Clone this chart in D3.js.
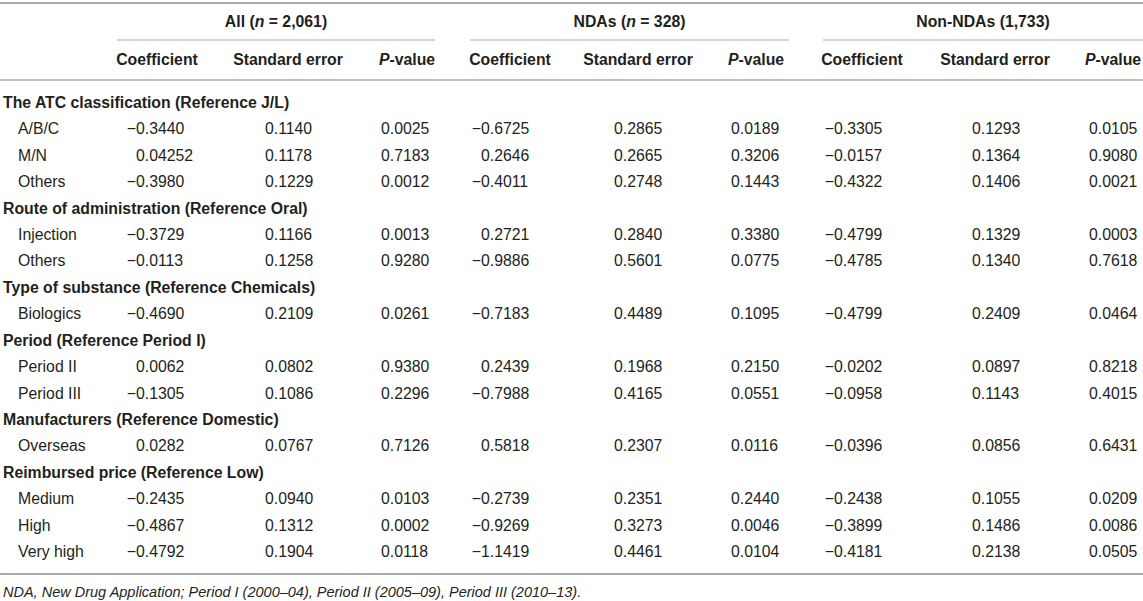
<!DOCTYPE html>
<html>
<head>
<meta charset="utf-8">
<script src="https://cdn.jsdelivr.net/npm/d3@7"></script>
<style>
	html, body { margin: 0; padding: 0; background: #fff; }
	svg text { font-family: "Liberation Sans", Arial, Helvetica, sans-serif; fill: #231f20; }
</style>
</head>
<body>
<svg id="chart"></svg>
<script>
/*
 * Regression table drawn with d3
 */

var W = 1143, H = 601;
var FS = '15.8px';
var MINUS = '\u2212';

// groups of columns
var groupKeys = ['all', 'nda', 'non'];
var groupTitles = [
	[{ t: 'All (' }, { t: 'n', i: true }, { t: ' = 2,061)' }],
	[{ t: 'NDAs (' }, { t: 'n', i: true }, { t: ' = 328)' }],
	[{ t: 'Non-NDAs (1,733)' }]
];
var subHeaders = [
	[{ t: 'Coefficient' }],
	[{ t: 'Standard error' }],
	[{ t: 'P', i: true }, { t: '-value' }]
];

// rows: s = section heading, r = variable level
var rowLabels = [
	['s', 'The ATC classification (Reference J/L)'],
	['r', 'A/B/C'],
	['r', 'M/N'],
	['r', 'Others'],
	['s', 'Route of administration (Reference Oral)'],
	['r', 'Injection'],
	['r', 'Others'],
	['s', 'Type of substance (Reference Chemicals)'],
	['r', 'Biologics'],
	['s', 'Period (Reference Period I)'],
	['r', 'Period II'],
	['r', 'Period III'],
	['s', 'Manufacturers (Reference Domestic)'],
	['r', 'Overseas'],
	['s', 'Reimbursed price (Reference Low)'],
	['r', 'Medium'],
	['r', 'High'],
	['r', 'Very high']
];

var allCoef = [null, '\u22120.3440', '0.04252', '\u22120.3980', null, '\u22120.3729', '\u22120.0113', null, '\u22120.4690', null, '0.0062', '\u22120.1305', null, '0.0282', null, '\u22120.2435', '\u22120.4867', '\u22120.4792'];
var allSE = [null, '0.1140', '0.1178', '0.1229', null, '0.1166', '0.1258', null, '0.2109', null, '0.0802', '0.1086', null, '0.0767', null, '0.0940', '0.1312', '0.1904'];
var allP = [null, '0.0025', '0.7183', '0.0012', null, '0.0013', '0.9280', null, '0.0261', null, '0.9380', '0.2296', null, '0.7126', null, '0.0103', '0.0002', '0.0118'];

var ndaCoef = [null, '\u22120.6725', '0.2646', '\u22120.4011', null, '0.2721', '\u22120.9886', null, '\u22120.7183', null, '0.2439', '\u22120.7988', null, '0.5818', null, '\u22120.2739', '\u22120.9269', '\u22121.1419'];
var ndaSE = [null, '0.2865', '0.2665', '0.2748', null, '0.2840', '0.5601', null, '0.4489', null, '0.1968', '0.4165', null, '0.2307', null, '0.2351', '0.3273', '0.4461'];
var ndaP = [null, '0.0189', '0.3206', '0.1443', null, '0.3380', '0.0775', null, '0.1095', null, '0.2150', '0.0551', null, '0.0116', null, '0.2440', '0.0046', '0.0104'];

var nonCoef = [null, '\u22120.3305', '\u22120.0157', '\u22120.4322', null, '\u22120.4799', '\u22120.4785', null, '\u22120.4799', null, '\u22120.0202', '\u22120.0958', null, '\u22120.0396', null, '\u22120.2438', '\u22120.3899', '\u22120.4181'];
var nonSE = [null, '0.1293', '0.1364', '0.1406', null, '0.1329', '0.1340', null, '0.2409', null, '0.0897', '0.1143', null, '0.0856', null, '0.1055', '0.1486', '0.2138'];
var nonP = [null, '0.0105', '0.9080', '0.0021', null, '0.0003', '0.7618', null, '0.0464', null, '0.8218', '0.4015', null, '0.6431', null, '0.0209', '0.0086', '0.0505'];

var footnote = 'NDA, New Drug Application; Period I (2000\u201304), Period II (2005\u201309), Period III (2010\u201313).';

var columns = [allCoef, allSE, allP, ndaCoef, ndaSE, ndaP, nonCoef, nonSE, nonP];

// layout: header centres and the x where the leading digit of a number starts
var colX = d3.scaleOrdinal()
	.domain(d3.range(9))
	.range([157, 288, 407, 510, 638, 756, 862, 995, 1113]);
var digitX = d3.scaleOrdinal()
	.domain(d3.range(9))
	.range([136, 265, 381, 481, 614, 731, 834, 972, 1089]);
var groupSpan = d3.scaleOrdinal()
	.domain(groupKeys)
	.range([[117, 435], [470, 789], [823, 1143]]);
var y = d3.scalePoint()
	.domain(d3.range(rowLabels.length))
	.range([102, 551]);

var svg = d3.select('#chart')
	.attr('width', W)
	.attr('height', H);

var addRuns = function (sel, runs) {
	sel.selectAll('tspan')
		.data(runs)
		.join('tspan')
		.style('font-style', function (d) { return d.i ? 'italic' : null; })
		.text(function (d) { return d.t; });
};

// width of the minus sign, so numbers line up on the digits
var probe = svg.append('text').style('font-size', FS).text(MINUS);
var minusW = probe.node().getComputedTextLength();
probe.remove();

// rules
svg.append('line')
	.attr('x1', 0).attr('x2', W)
	.attr('y1', 3).attr('y2', 3)
	.attr('stroke', '#a7a9ac').attr('stroke-width', 2);
svg.append('line')
	.attr('x1', 0).attr('x2', W)
	.attr('y1', 80).attr('y2', 80)
	.attr('stroke', '#a7a9ac').attr('stroke-width', 1.5);
svg.append('line')
	.attr('x1', 0).attr('x2', W)
	.attr('y1', 574).attr('y2', 574)
	.attr('stroke', '#a7a9ac').attr('stroke-width', 2);

// group headers
svg.selectAll('line.grp')
	.data(groupKeys)
	.join('line')
	.attr('class', 'grp')
	.attr('x1', function (d) { return groupSpan(d)[0]; })
	.attr('x2', function (d) { return groupSpan(d)[1]; })
	.attr('y1', 40).attr('y2', 40)
	.attr('stroke', '#a7a9ac').attr('stroke-width', 1);

svg.selectAll('text.grp')
	.data(groupKeys)
	.join('text')
	.attr('class', 'grp')
	.attr('x', function (d) { var s = groupSpan(d); return (s[0] + s[1]) / 2; })
	.attr('y', 27)
	.attr('text-anchor', 'middle')
	.style('font-size', FS)
	.style('font-weight', 'bold')
	.each(function (d, i) { addRuns(d3.select(this), groupTitles[i]); });

// sub headers
svg.selectAll('text.sub')
	.data(d3.range(9))
	.join('text')
	.attr('class', 'sub')
	.attr('x', function (d) { return colX(d); })
	.attr('y', 65)
	.attr('text-anchor', 'middle')
	.style('font-size', FS)
	.style('font-weight', 'bold')
	.each(function (d) { addRuns(d3.select(this), subHeaders[d % 3]); });

// row labels
svg.selectAll('text.lab')
	.data(rowLabels)
	.join('text')
	.attr('class', 'lab')
	.attr('x', function (d) { return d[0] === 's' ? 3 : 18; })
	.attr('y', function (d, i) { return y(i) + 6; })
	.style('font-size', FS)
	.style('font-weight', function (d) { return d[0] === 's' ? 'bold' : null; })
	.text(function (d) { return d[1]; });

// cells
columns.forEach(function (col, c) {
	var cells = col.map(function (v, i) { return { v: v, i: i }; })
		.filter(function (d) { return d.v !== null; });
	svg.append('g')
		.selectAll('text')
		.data(cells)
		.join('text')
		.attr('x', function (d) {
			return digitX(c) - (d.v.charAt(0) === MINUS ? minusW : 0);
		})
		.attr('y', function (d) { return y(d.i) + 6; })
		.style('font-size', FS)
		.text(function (d) { return d.v; });
});

svg.append('text')
	.attr('x', 3)
	.attr('y', 597)
	.style('font-size', '14.5px')
	.style('font-style', 'italic')
	.text(footnote);
</script>
</body>
</html>
